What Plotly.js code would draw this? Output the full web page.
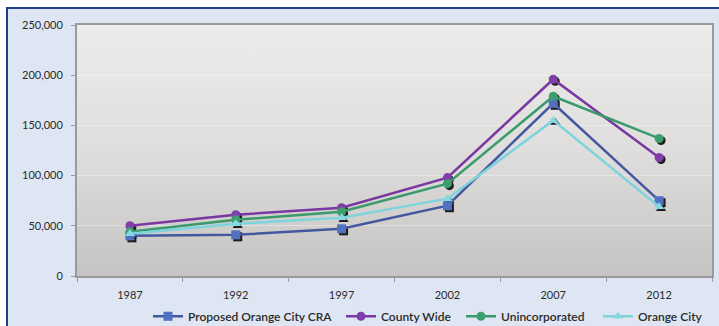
<!DOCTYPE html>
<html>
<head>
<meta charset="utf-8">
<script src="https://cdn.plot.ly/plotly-3.0.1.min.js"></script>
<style>
  html, body { margin: 0; padding: 0; background: #ffffff; overflow: hidden; }
  #frame {
    position: absolute; left: 6px; top: 7px; width: 720px; height: 330px;
    background: #dde6f2; border-left: 2px solid #1d3f8c; border-top: 2px solid #1d3f8c;
  }
  #chart { position: absolute; left: 0; top: 0; width: 719px; height: 326px; }
</style>
</head>
<body>
<div id="frame"></div>
<div id="chart"></div>
<script>
// Population estimates by year
const years = ['1987', '1992', '1997', '2002', '2007', '2012'];
const seriesNames = ['Proposed Orange City CRA', 'County Wide', 'Unincorporated', 'Orange City'];
const craValues = [40000, 41000, 47000, 70000, 172000, 75000];
const countyValues = [50000, 61000, 68000, 98000, 196000, 118000];
const unincorporatedValues = [44000, 56000, 64000, 92000, 179000, 137000];
const orangeCityValues = [42000, 52000, 58000, 77000, 155000, 69000];
const yTickValues = [0, 50000, 100000, 150000, 200000, 250000];

const seriesValues = [craValues, countyValues, unincorporatedValues, orangeCityValues];
const lineColors = ['#44589f', '#7a38a2', '#3a9a6c', '#7fd3dc'];
const markerColors = ['#5070c2', '#7e3fa8', '#3d9e6f', '#86d9e2'];
const symbols = ['square', 'circle', 'circle', 'triangle-up'];
const legendIds = ['legend', 'legend2', 'legend3', 'legend4'];
const legendLeft = [148, 341, 461, 598]; // px from the left edge of the page

const traces = [];
// drop shadows under the markers, on a slightly offset copy of the axes
seriesValues.forEach((vals, i) => {
  traces.push({
    x: years, y: vals, type: 'scatter', mode: 'markers',
    xaxis: 'x', yaxis: 'y', showlegend: false, hoverinfo: 'skip',
    marker: { symbol: symbols[i], size: 9, color: 'rgba(10,10,10,0.9)' }
  });
});
seriesValues.forEach((vals, i) => {
  traces.push({
    x: years, y: vals, name: seriesNames[i], type: 'scatter', mode: 'lines+markers',
    xaxis: 'x2', yaxis: 'y2', legend: legendIds[i],
    line: { color: lineColors[i], width: 2.5 },
    marker: { symbol: symbols[i], size: 9, color: markerColors[i] }
  });
});

const plotW = 635, plotH = 251, catW = plotW / years.length;
const shiftPx = 2;
const yMax = 250000;

const bgSvg = '<svg xmlns="http://www.w3.org/2000/svg" width="10" height="100" preserveAspectRatio="none">' +
  '<defs><linearGradient id="g" x1="0" y1="0" x2="0" y2="1">' +
  '<stop offset="0" stop-color="#ececea"/><stop offset="0.5" stop-color="#dfdedd"/>' +
  '<stop offset="1" stop-color="#c6c4c2"/></linearGradient></defs>' +
  '<rect width="10" height="100" fill="url(#g)"/></svg>';

const tickFont = { family: 'Lato, Noto Sans, sans-serif', size: 11, color: '#2a2a2a' };
const legendFont = { family: 'Lato, Noto Sans, sans-serif', size: 12, color: '#2a2a2a', weight: 600 };

const layout = {
  width: 719, height: 326,
  margin: { l: 77, r: 7, t: 25, b: 50 },
  paper_bgcolor: 'rgba(0,0,0,0)',
  plot_bgcolor: 'rgba(0,0,0,0)',
  separators: '.,',
  showlegend: true,
  images: [{
    source: 'data:image/svg+xml;charset=utf-8,' + encodeURIComponent(bgSvg),
    xref: 'paper', yref: 'paper', x: 0, y: 1, sizex: 1, sizey: 1,
    xanchor: 'left', yanchor: 'top', sizing: 'stretch', layer: 'below'
  }],
  // shadow axes: same scale, nudged right and down
  xaxis: {
    type: 'category', range: [-0.5 - shiftPx / catW, years.length - 0.5 - shiftPx / catW],
    visible: false, fixedrange: true
  },
  yaxis: {
    range: [shiftPx * yMax / plotH, yMax + shiftPx * yMax / plotH],
    visible: false, fixedrange: true
  },
  xaxis2: {
    type: 'category', overlaying: 'x', range: [-0.5, years.length - 0.5],
    showline: true, linecolor: '#9a9a9a', linewidth: 2, mirror: true,
    ticks: 'outside', tickson: 'boundaries', ticklen: 4, tickcolor: '#9a9a9a',
    showgrid: false, zeroline: false, tickfont: tickFont, ticklabelstandoff: 8
  },
  yaxis2: {
    overlaying: 'y', range: [0, yMax], tickvals: yTickValues, tickformat: ',d',
    showline: true, linecolor: '#9a9a9a', linewidth: 2, mirror: true,
    ticks: 'outside', ticklen: 4, tickcolor: '#9a9a9a',
    showgrid: true, gridcolor: 'rgba(255,255,255,0.35)', gridwidth: 1,
    zeroline: false, tickfont: tickFont, ticklabelstandoff: 6
  }
};

legendIds.forEach((id, i) => {
  layout[id] = {
    orientation: 'h', xref: 'container', yref: 'container',
    x: legendLeft[i] / 719, xanchor: 'left', y: 0.03, yanchor: 'middle',
    bgcolor: 'rgba(0,0,0,0)', font: legendFont, itemwidth: 30
  };
});

Plotly.newPlot('chart', traces, layout, { displayModeBar: false, staticPlot: true });
</script>
</body>
</html>
